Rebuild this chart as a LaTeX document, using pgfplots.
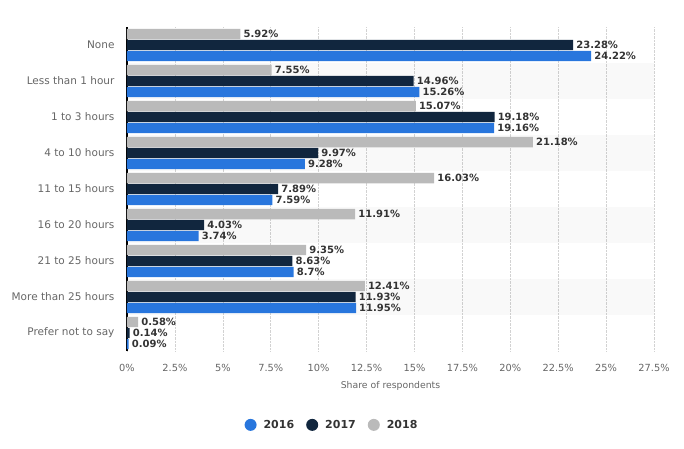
\documentclass[border=0pt]{standalone}
\usepackage{pgfplots}
\pgfplotsset{compat=1.18}
\usepackage{fontspec}
\setmainfont{DejaVu Sans}
\definecolor{c16}{HTML}{2876DD}
\definecolor{c17}{HTML}{11263E}
\definecolor{c18}{HTML}{BABABA}
\definecolor{tickc}{HTML}{666666}
\definecolor{labc}{HTML}{333333}
\begin{document}
\begin{tikzpicture}
\path[use as bounding box] (-127pt,-97pt) rectangle (557pt,351pt);
\begin{axis}[
  at={(0pt,0pt)}, anchor=south west,
  scale only axis, width=527pt, height=324pt,
  xbar, bar width=0.29,
  xmin=0, xmax=27.5, ymin=-0.5, ymax=8.5,
  xtick={0,2.5,5,7.5,10,12.5,15,17.5,20,22.5,25,27.5},
  xticklabels={0\%,2.5\%,5\%,7.5\%,10\%,12.5\%,15\%,17.5\%,20\%,22.5\%,25\%,27.5\%},
  ytick={0,1,2,3,4,5,6,7,8},
  yticklabels={Prefer not to say,More than 25 hours,21 to 25 hours,16 to 20 hours,11 to 15 hours,4 to 10 hours,1 to 3 hours,Less than 1 hour,None},
  axis lines*=left,
  x axis line style={draw=none},
  y axis line style={black, line width=1.3pt},
  major tick length=0pt,
  xmajorgrids,
  major grid style={densely dotted, gray!35, line width=0.6pt},
  tick label style={color=tickc},
  yticklabel style={font=\fontsize{10.5}{12}\selectfont, xshift=-9pt},
  xticklabel style={font=\fontsize{9.8}{11}\selectfont, yshift=-10pt},
  xlabel={Share of respondents},
  xlabel style={font=\fontsize{9.3}{11}\selectfont, color=tickc, yshift=-3pt},
  point meta=x,
  nodes near coords={\pgfmathprintnumber[fixed,precision=2,assume math mode=true]{\pgfplotspointmeta}\%},
  nodes near coords style={font=\bfseries\fontsize{10}{11}\selectfont, color=labc, anchor=west, inner xsep=3pt},
  clip=false,
  legend style={at={(0.389,-0.228)}, anchor=center, draw=none, fill=none,
    legend columns=-1, font=\bfseries\fontsize{11}{13}\selectfont, text=labc,
    /tikz/every even column/.append style={column sep=10pt}},
  legend image code/.code={\fill[#1,draw=none] (0pt,0pt) circle (6pt); \path (11pt,0pt);},
]
\fill[black, fill opacity=0.025] (axis cs:0,0.5) rectangle (axis cs:27.5,1.5);
\fill[black, fill opacity=0.025] (axis cs:0,2.5) rectangle (axis cs:27.5,3.5);
\fill[black, fill opacity=0.025] (axis cs:0,4.5) rectangle (axis cs:27.5,5.5);
\fill[black, fill opacity=0.025] (axis cs:0,6.5) rectangle (axis cs:27.5,7.5);
\addplot[fill=c16, draw=none, bar shift=-0.305] coordinates {
 (24.22,8) (15.26,7) (19.16,6) (9.28,5) (7.59,4) (3.74,3) (8.7,2) (11.95,1) (0.09,0)};
\addplot[fill=c17, draw=none, bar shift=0] coordinates {
 (23.28,8) (14.96,7) (19.18,6) (9.97,5) (7.89,4) (4.03,3) (8.63,2) (11.93,1) (0.14,0)};
\addplot[fill=c18, draw=none, bar shift=0.305] coordinates {
 (5.92,8) (7.55,7) (15.07,6) (21.18,5) (16.03,4) (11.91,3) (9.35,2) (12.41,1) (0.58,0)};
\legend{2016,2017,2018}
\end{axis}
\end{tikzpicture}
\end{document}
